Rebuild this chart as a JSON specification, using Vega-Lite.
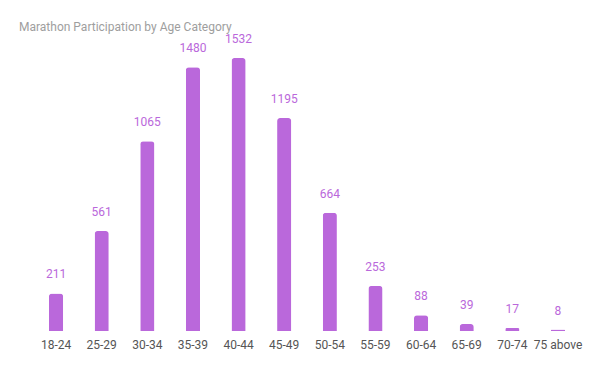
{
  "$schema": "https://vega.github.io/schema/vega-lite/v6.json",
  "autosize": {"type": "none"},
  "width": 548,
  "height": 273,
  "padding": {"left": 33, "top": 58, "right": 19, "bottom": 40},
  "background": "white",
  "title": {
    "text": "Marathon Participation by Age Category",
    "anchor": "start",
    "frame": "group",
    "dx": -14,
    "offset": -1,
    "font": "Roboto",
    "fontSize": 12,
    "fontWeight": "normal",
    "color": "#9e9e9e"
  },
  "data": {
    "values": [
      {"age": "18-24", "count": 211},
      {"age": "25-29", "count": 561},
      {"age": "30-34", "count": 1065},
      {"age": "35-39", "count": 1480},
      {"age": "40-44", "count": 1532},
      {"age": "45-49", "count": 1195},
      {"age": "50-54", "count": 664},
      {"age": "55-59", "count": 253},
      {"age": "60-64", "count": 88},
      {"age": "65-69", "count": 39},
      {"age": "70-74", "count": 17},
      {"age": "75 above", "count": 8}
    ]
  },
  "encoding": {
    "x": {
      "field": "age",
      "type": "nominal",
      "sort": null,
      "scale": {"paddingInner": 0.69, "paddingOuter": 0.35},
      "axis": {
        "title": null,
        "labelAngle": 0,
        "domain": false,
        "ticks": false,
        "grid": false,
        "labelPadding": 8,
        "labelFont": "Roboto",
        "labelFontSize": 12,
        "labelColor": "#555555"
      }
    },
    "y": {
      "field": "count",
      "type": "quantitative",
      "scale": {"domain": [0, 1532], "nice": false},
      "axis": null
    }
  },
  "layer": [
    {
      "mark": {"type": "bar", "color": "#ba68db", "cornerRadiusTopLeft": 3, "cornerRadiusTopRight": 3}
    },
    {
      "mark": {"type": "text", "baseline": "alphabetic", "dy": -15, "font": "Roboto", "fontSize": 12, "color": "#ba68db"},
      "encoding": {"text": {"field": "count", "type": "quantitative"}}
    }
  ],
  "config": {"view": {"stroke": null}}
}
